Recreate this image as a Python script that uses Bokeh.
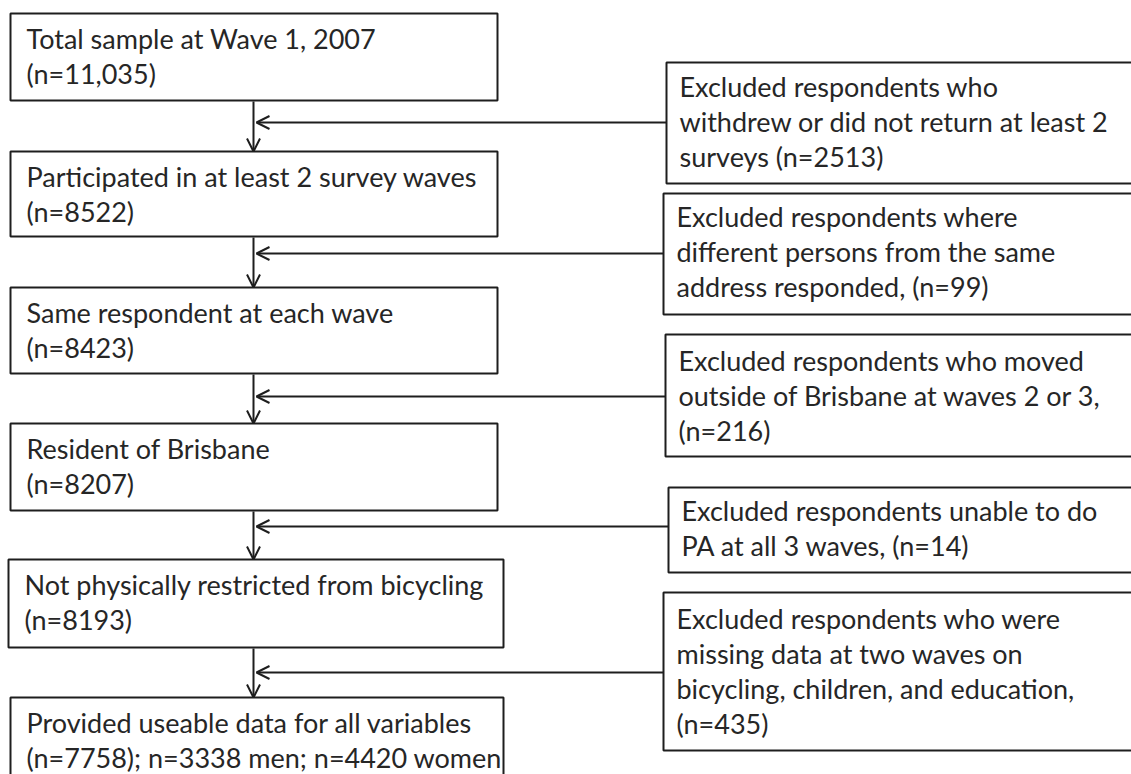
from bokeh.plotting import figure
from bokeh.models import Arrow, OpenHead, Range1d
from bokeh.core.properties import value
from bokeh.embed import file_html
from bokeh.resources import INLINE

# ---- data ----
stage_labels = [
    "Total sample at Wave 1, 2007",
    "Participated in at least 2 survey waves",
    "Same respondent at each wave",
    "Resident of Brisbane",
    "Not physically restricted from bicycling",
    "Provided useable data for all variables",
]
stage_counts = [
    "(n=11,035)",
    "(n=8522)",
    "(n=8423)",
    "(n=8207)",
    "(n=8193)",
    "(n=7758); n=3338 men; n=4420 women",
]
exclusion_lines = [
    ["Excluded respondents who", "withdrew or  did not return at least 2", "surveys (n=2513)"],
    ["Excluded respondents where", "different persons from the same", "address responded, (n=99)"],
    ["Excluded respondents who moved", "outside of Brisbane at waves 2 or 3,", "(n=216)"],
    ["Excluded respondents  unable to do", "PA at all 3 waves, (n=14)"],
    ["Excluded respondents who were", "missing data at two waves on", "bicycling, children, and education,", "(n=435)"],
]

# ---- layout (pixel coordinates, y downward) ----
left_box = [(10, 497, 13, 100), (10, 497, 151, 236), (10, 497, 287, 373),
            (10, 497, 423, 510), (8, 503, 559, 647), (10, 503, 697, 800)]
right_box = [(666, 1140, 62, 183), (663, 1140, 193, 314), (665, 1140, 334, 456),
             (668, 1140, 487, 572), (663, 1140, 592, 750)]
right_first = [86, 216, 360, 510, 618]
join_y = [122, 253, 396, 526, 672]
spine_x = 253
line_gap = 35

FONT = value("Lato")
FS = "27px"
INK = "#1e1e1e"
TXT = "#262626"

W, H = 1131, 774
p = figure(width=W, height=H, output_backend="svg", toolbar_location=None,
           x_range=Range1d(0, W), y_range=Range1d(H, 0),
           min_border=0)
p.axis.visible = False
p.grid.visible = False
p.outline_line_color = None
p.background_fill_color = "white"
p.border_fill_color = "white"

# boxes
p.quad(left=[b[0] for b in left_box], right=[b[1] for b in left_box],
       top=[b[2] for b in left_box], bottom=[b[3] for b in left_box],
       fill_color="white", line_color=INK, line_width=2)
p.quad(left=[b[0] for b in right_box], right=[b[1] for b in right_box],
       top=[b[2] for b in right_box], bottom=[b[3] for b in right_box],
       fill_color="white", line_color=INK, line_width=2)

# left texts
xs, ys, ts = [], [], []
for i, b in enumerate(left_box):
    xs += [b[0] + 16, b[0] + 16]
    ys += [b[2] + 25, b[2] + 25 + line_gap]
    ts += [stage_labels[i], stage_counts[i]]
p.text(x=xs, y=ys, text=ts, text_font=FONT, text_font_size=FS,
       text_color=TXT, text_baseline="middle", text_align="left")

# right texts
xs, ys, ts = [], [], []
for i, b in enumerate(right_box):
    for j, t in enumerate(exclusion_lines[i]):
        xs.append(b[0] + 13)
        ys.append(right_first[i] + j * line_gap)
        ts.append(t)
p.text(x=xs, y=ys, text=ts, text_font=FONT, text_font_size=FS,
       text_color=TXT, text_baseline="middle", text_align="left")

# vertical arrows
for i in range(len(left_box) - 1):
    p.add_layout(Arrow(end=OpenHead(size=13, line_color=INK, line_width=2),
                       x_start=spine_x, y_start=left_box[i][3] + 1,
                       x_end=spine_x, y_end=left_box[i + 1][2],
                       line_color=INK, line_width=2))
# horizontal arrows
for i, yj in enumerate(join_y):
    p.add_layout(Arrow(end=OpenHead(size=13, line_color=INK, line_width=2),
                       x_start=right_box[i][0], y_start=yj,
                       x_end=spine_x + 3, y_end=yj,
                       line_color=INK, line_width=2))

open("out.html", "w").write(file_html(p, INLINE))
